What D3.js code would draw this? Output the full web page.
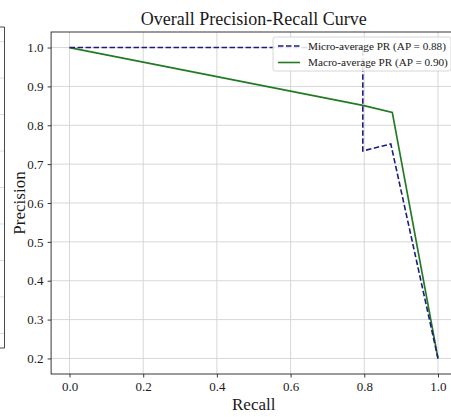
<!DOCTYPE html>
<html>
<head>
<meta charset="utf-8">
<script src="https://cdn.jsdelivr.net/npm/d3@7"></script>
<style>
  html, body { margin: 0; padding: 0; background: #fff; }
  svg { display: block; }
  text { font-family: "Liberation Serif", "Times New Roman", serif; fill: #1a1a1a; }
</style>
</head>
<body>
<svg id="chart" width="451" height="417"></svg>
<script>
// Precision-recall curve points (recall, precision)
const microRecall    = [0.0, 0.796, 0.796, 0.872, 1.0];
const microPrecision = [1.0, 1.0,   0.734, 0.752, 0.2];
const macroRecall    = [0.0, 0.796, 0.876, 1.0];
const macroPrecision = [1.0, 0.851, 0.833, 0.2];

const seriesLabels = ["Micro-average PR (AP = 0.88)", "Macro-average PR (AP = 0.90)"];
const xTicks = [0.0, 0.2, 0.4, 0.6, 0.8, 1.0];
const yTicks = [0.2, 0.3, 0.4, 0.5, 0.6, 0.7, 0.8, 0.9, 1.0];

// Neighbouring panel (only its right edge falls inside the frame)
const neighbourGrid = [0.2, 0.3, 0.4, 0.5, 0.6, 0.7, 0.8, 0.9, 1.0];

const svg = d3.select("#chart");

const x = d3.scaleLinear().domain([-0.05, 1.05]).range([51.1, 456.4]);
const y = d3.scaleLinear().domain([0.16, 1.04]).range([374, 32]);

// --- neighbouring panel edge ---
const yN = d3.scaleLinear().domain([0.16, 1.04]).range([348, 27]);
const nb = svg.append("g");
nb.selectAll("line.ng").data(neighbourGrid).enter().append("line")
  .attr("x1", 0).attr("x2", 4)
  .attr("y1", d => yN(d)).attr("y2", d => yN(d))
  .attr("stroke", "#d5d5d5").attr("stroke-width", 0.8);
nb.append("path")
  .attr("d", `M0,${yN(1.04)}H4.5V${yN(0.16)}H0`)
  .attr("fill", "none").attr("stroke", "#333").attr("stroke-width", 0.9);

// --- grid ---
const grid = svg.append("g");
grid.selectAll("line.gx").data(xTicks).enter().append("line")
  .attr("x1", d => x(d)).attr("x2", d => x(d))
  .attr("y1", y.range()[0]).attr("y2", y.range()[1])
  .attr("stroke", "#d2d2d2").attr("stroke-width", 0.9);
grid.selectAll("line.gy").data(yTicks).enter().append("line")
  .attr("x1", x.range()[0]).attr("x2", x.range()[1])
  .attr("y1", d => y(d)).attr("y2", d => y(d))
  .attr("stroke", "#d2d2d2").attr("stroke-width", 0.9);

// --- curves ---
const line = d3.line().x(d => x(d[0])).y(d => y(d[1]));
const micro = microRecall.map((r, i) => [r, microPrecision[i]]);
const macro = macroRecall.map((r, i) => [r, macroPrecision[i]]);

svg.append("path").datum(macro)
  .attr("d", line).attr("fill", "none")
  .attr("stroke", "#237a23").attr("stroke-width", 1.7);
svg.append("path").datum(micro)
  .attr("d", line).attr("fill", "none")
  .attr("stroke", "#1c1c80").attr("stroke-width", 1.6)
  .attr("stroke-dasharray", "5.5,2.5");

// --- axes ---
const xAxis = d3.axisBottom(x).tickValues(xTicks).tickFormat(d3.format(".1f"))
  .tickSize(3.5).tickPadding(4);
const yAxis = d3.axisLeft(y).tickValues(yTicks).tickFormat(d3.format(".1f"))
  .tickSize(3.5).tickPadding(4);

const gx = svg.append("g").attr("transform", `translate(0,${y.range()[0]})`).call(xAxis);
const gy = svg.append("g").attr("transform", `translate(${x.range()[0]},0)`).call(yAxis);
[gx, gy].forEach(g => {
  g.attr("font-family", "Liberation Serif, serif").attr("font-size", 13);
  g.select(".domain").remove();
  g.selectAll(".tick line").attr("stroke", "#222").attr("stroke-width", 0.9);
  g.selectAll(".tick text").attr("fill", "#222");
});

// frame (right edge lies past the visible area)
svg.append("rect")
  .attr("x", x.range()[0]).attr("y", y.range()[1])
  .attr("width", x.range()[1] - x.range()[0]).attr("height", y.range()[0] - y.range()[1])
  .attr("fill", "none").attr("stroke", "#222").attr("stroke-width", 0.9);

// --- titles ---
svg.append("text")
  .attr("x", (x.range()[0] + x.range()[1]) / 2).attr("y", 25)
  .attr("text-anchor", "middle").attr("font-size", 18)
  .text("Overall Precision-Recall Curve");
svg.append("text")
  .attr("x", (x.range()[0] + x.range()[1]) / 2).attr("y", 410)
  .attr("text-anchor", "middle").attr("font-size", 17)
  .text("Recall");
svg.append("text")
  .attr("transform", `translate(25,${(y.range()[0] + y.range()[1]) / 2}) rotate(-90)`)
  .attr("text-anchor", "middle").attr("font-size", 17)
  .text("Precision");

// --- legend ---
const legend = svg.append("g").attr("transform", "translate(273,37)");
legend.append("rect")
  .attr("x", 0).attr("y", 0).attr("width", 178).attr("height", 34)
  .attr("rx", 2.5).attr("fill", "rgba(255,255,255,0.85)")
  .attr("stroke", "#cccccc").attr("stroke-width", 0.8);
const styles = [
  { stroke: "#1c1c80", dash: "5.5,2.5" },
  { stroke: "#237a23", dash: null }
];
seriesLabels.forEach((lab, i) => {
  const cy = 9 + i * 16.5;
  legend.append("line")
    .attr("x1", 5).attr("x2", 27).attr("y1", cy).attr("y2", cy)
    .attr("stroke", styles[i].stroke).attr("stroke-width", 1.6)
    .attr("stroke-dasharray", styles[i].dash);
  legend.append("text")
    .attr("x", 35).attr("y", cy).attr("dy", "0.35em")
    .attr("font-size", 11.2).text(lab);
});
</script>
</body>
</html>
